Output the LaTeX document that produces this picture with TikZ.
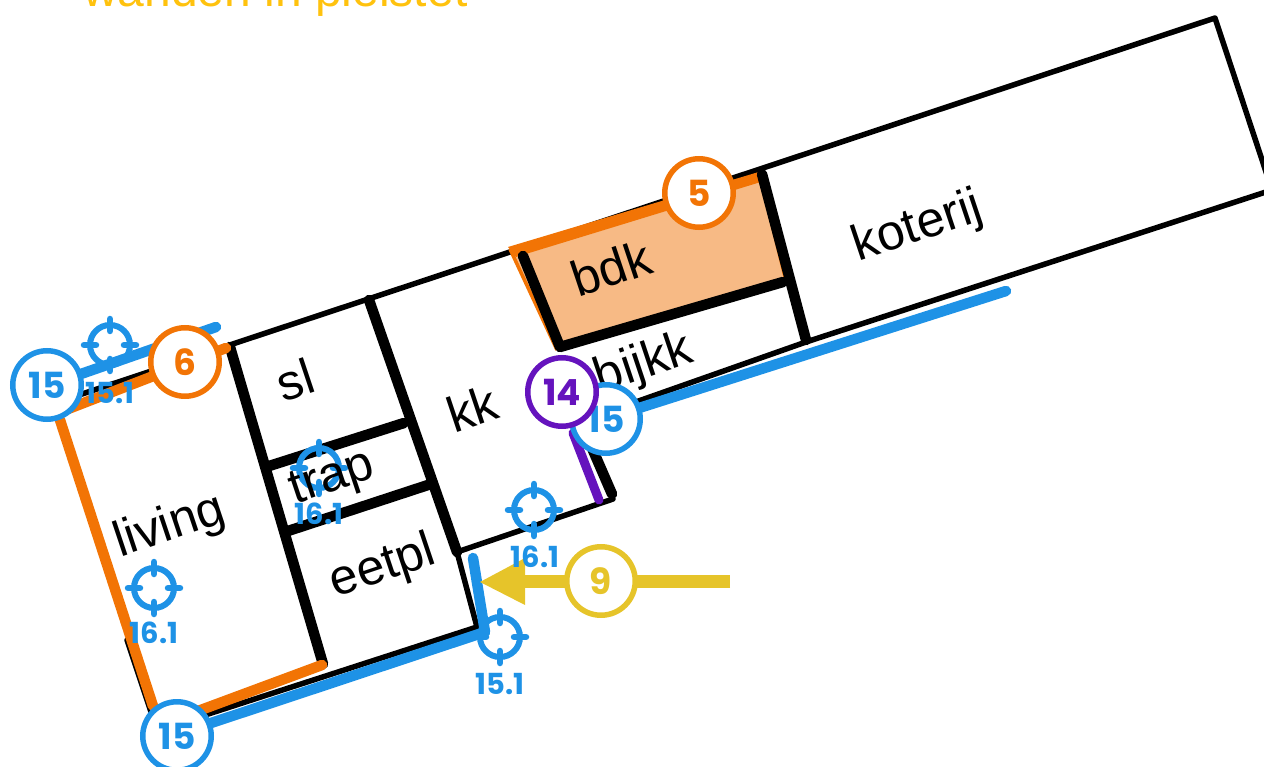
\documentclass[tikz,border=0pt]{standalone}
\usepackage{fontspec}
\setmainfont{Liberation Sans}
\newfontfamily\badge{Poppins}
\definecolor{oranje}{HTML}{F27405}
\definecolor{blauw}{HTML}{1E92E6}
\definecolor{paars}{HTML}{6513BD}
\definecolor{geel}{HTML}{E6C42A}
\definecolor{titel}{HTML}{FFC20E}
\definecolor{vul}{HTML}{F7BA85}
\tikzset{
  wall/.style={line width=10.5pt,line cap=round,line join=round,black},
  thin wall/.style={line width=5.5pt,line cap=round,line join=round,black},
  room/.style={font=\fontsize{50}{50}\selectfont,rotate=18.5,inner sep=0pt,black},
  callout/.style={circle,draw=#1,fill=white,line width=5.5pt,minimum size=68.5pt,inner sep=0pt,text=#1,font=\badge\bfseries\fontsize{36}{36}\selectfont},
  marklabel/.style={text=blauw,font=\badge\bfseries\fontsize{29}{29}\selectfont,inner sep=0pt},
  blueline/.style={line width=10.5pt,line cap=round,blauw},
  orangeline/.style={line width=10.5pt,line cap=round,oranje},
}
\newcommand{\target}[2]{%
  \draw[blauw,line width=6pt] (#1,#2) circle (20pt);
  \draw[blauw,line width=6.5pt,line cap=round] (#1-26,#2)--(#1-14,#2) (#1+14,#2)--(#1+26,#2) (#1,#2-26)--(#1,#2-14) (#1,#2+14)--(#1,#2+26);
}
\begin{document}
\begin{tikzpicture}[x=1pt,y=-1pt]
\useasboundingbox (0,0) rectangle (1264,767);
\node[anchor=base west,text=titel,inner sep=0pt,font=\fontsize{48}{48}\selectfont] (title) at (83,7) {wanden in pleistet};
% filled room
\fill[vul] (510,249) -- (760,174) -- (786,281) -- (559,349) -- cycle;
% outer walls
\draw[thin wall] (70,398) -- (1215,18) -- (1272,190) -- (806,342) -- (630,404);
\draw[thin wall] (613,499) -- (457,552) -- (477,627) -- (196,718);
\draw[thin wall] (127,640) -- (151,712);
% orange walls on the filled room
\draw[oranje,line width=3.5pt] (786,281) -- (760,174) (510,249) -- (557,350);
\fill[oranje] (508,247) -- (762,171) -- (764,181) -- (516,257) -- cycle;
% inner walls
\draw[wall] (230,347) -- (323,664);
\draw[wall] (369,300) -- (457,552);
\draw[wall] (266,467) -- (404,423);
\draw[wall] (288,531) -- (428,485);
\draw[wall] (762,174) -- (806,340);
\draw[wall] (523,256) -- (560,347) -- (783,282);
\draw[wall] (582,425) -- (612,494);
% orange walls
\draw[orangeline] (60,420) -- (153,706);
\draw[orangeline] (198,711) -- (322,665);
\draw[orangeline] (68,409) -- (226,348);
% purple
\draw[paars,line width=9pt,line cap=round] (573,433) -- (599,500);
% blue walls
\draw[blueline] (78,375) -- (216,327);
\draw[blueline] (205,725) -- (485,632);
\draw[blueline] (473,558) -- (485,632);
\draw[blueline] (636,409) -- (1006,291);
% arrow
\draw[geel,line width=13pt] (730,581) -- (520,581);
\fill[geel] (480,582) -- (525,558) -- (525,605) -- cycle;
% targets
\target{110}{345}
\target{319}{468}
\target{534}{510}
\target{154}{588}
\target{500}{637}
\node[marklabel] (t1) at (110,393) {15.1};
\node[marklabel] (t2) at (319,514) {16.1};
\node[marklabel] (t3) at (535,557) {16.1};
\node[marklabel] (t4) at (154,633) {16.1};
\node[marklabel] (t5) at (500,684) {15.1};
% room labels
\node[room] (koterij) at (918,228) {koterij};
\node[room] (bdk) at (611,268) {bdk};
\node[room] (bijkk) at (644,365) {bijkk};
\node[room] (kk) at (472,408) {kk};
\node[room] (sl) at (295,380) {sl};
\node[room] (trap) at (333,480) {trap};
\node[room] (living) at (170,527) {living};
\node[room] (eetpl) at (383,568) {eetpl};
% callouts
\node[callout=blauw] (c15a) at (47,385) {15};
\node[callout=oranje] (c6) at (185,362) {6};
\node[callout=oranje] (c5) at (699,193) {5};
\node[callout=blauw] (c15b) at (606,419) {15};
\node[callout=paars] (c14) at (562,392) {14};
\node[callout=geel] (c9) at (601,581) {9};
\node[callout=blauw] (c15c) at (177,736) {15};
\end{tikzpicture}
\end{document}
